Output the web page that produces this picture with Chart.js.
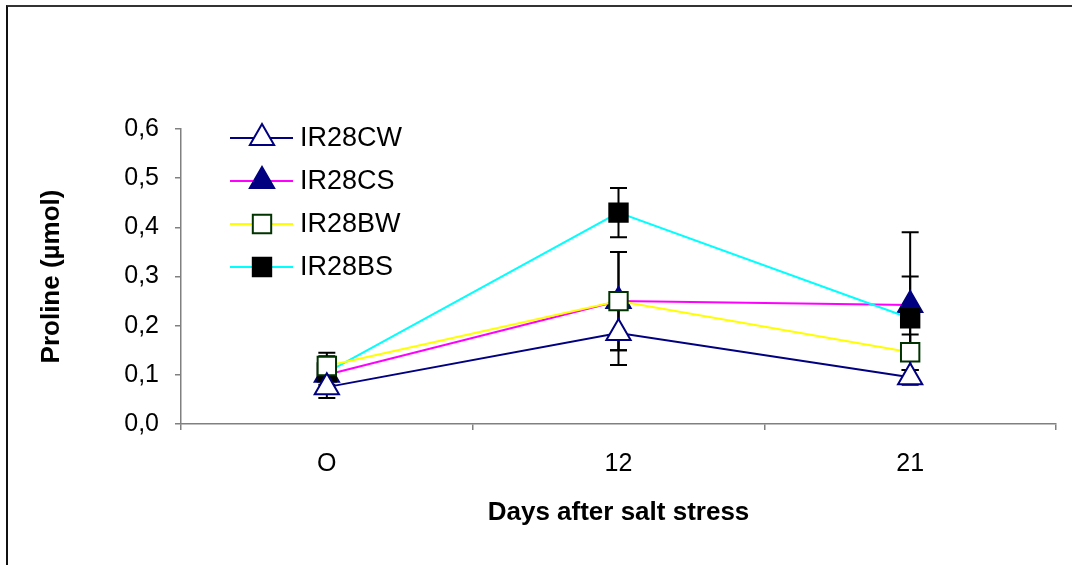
<!DOCTYPE html>
<html>
<head>
<meta charset="utf-8">
<script src="https://cdn.jsdelivr.net/npm/chart.js@4/dist/chart.umd.min.js"></script>
<style>
    body { margin: 0; background: #fff; overflow: hidden; }
    #wrap { position: relative; width: 1072px; height: 565px; }
    #frame { position: absolute; left: 6px; top: 5px; width: 1200px; height: 700px; border-top: 2px solid #333; border-left: 2px solid #111; }
    canvas { position: absolute; left: 0; top: 0; }
</style>
</head>
<body>
<div id="wrap">
    <div id="frame"></div>
    <canvas id="prolineChart" width="1072" height="565"></canvas>
</div>
<script>
const days = ['O', '12', '21'];
const seriesNames = ['IR28CW', 'IR28CS', 'IR28BW', 'IR28BS'];

const cwValues = [0.075, 0.185, 0.095];
const cwErrors = [0.022, 0.065, 0.015];
const csValues = [0.10, 0.25, 0.242];
const csErrors = [0.02, 0.10, 0.148];
const bwValues = [0.118, 0.25, 0.146];
const bwErrors = [0.02, 0.10, 0.036];
const bsValues = [0.105, 0.43, 0.215];
const bsErrors = [0.04, 0.05, 0.085];

const yTicks = [0, 0.1, 0.2, 0.3, 0.4, 0.5, 0.6];

const FONT = "'Liberation Sans', Arial, sans-serif";

// vertical error bars, drawn behind the lines and markers
const errorBars = {
    id: 'errorBars',
    beforeDatasetsDraw(chart) {
        const { ctx, scales: { x, y } } = chart;
        ctx.save();
        ctx.strokeStyle = '#000';
        ctx.lineWidth = 2;
        chart.data.datasets.forEach(ds => {
            ds.data.forEach((v, i) => {
                const e = ds.errors[i];
                if (!e) return;
                const px = x.getPixelForValue(i);
                const pTop = y.getPixelForValue(v + e);
                const pBot = y.getPixelForValue(v - e);
                ctx.beginPath();
                ctx.moveTo(px, pTop); ctx.lineTo(px, pBot);
                ctx.moveTo(px - 8.5, pTop); ctx.lineTo(px + 8.5, pTop);
                ctx.moveTo(px - 8.5, pBot); ctx.lineTo(px + 8.5, pBot);
                ctx.stroke();
            });
        });
        ctx.restore();
    }
};

// legend inside the plot, line + marker per series
const innerLegend = {
    id: 'innerLegend',
    afterDraw(chart) {
        const { ctx, chartArea } = chart;
        ctx.save();
        chart.data.datasets.forEach((ds, i) => {
            const yy = chartArea.top + 9 + i * 43;
            const x0 = chartArea.left + 49;
            ctx.strokeStyle = ds.borderColor;
            ctx.lineWidth = 2;
            ctx.beginPath();
            ctx.moveTo(x0, yy); ctx.lineTo(x0 + 63, yy);
            ctx.stroke();
            ctx.fillStyle = ds.pointBackgroundColor;
            ctx.strokeStyle = ds.pointBorderColor;
            ctx.lineWidth = ds.pointBorderWidth;
            Chart.helpers.drawPoint(ctx, {
                pointStyle: ds.pointStyle, radius: ds.pointRadius, rotation: 0, borderWidth: ds.pointBorderWidth
            }, x0 + 32, yy);
            ctx.fillStyle = '#000';
            ctx.font = '27px ' + FONT;
            ctx.textBaseline = 'middle';
            ctx.fillText(ds.label, x0 + 70, yy + 1);
        });
        ctx.restore();
    }
};

function makeSet(label, data, errors, line, style, fill, border, order) {
    const r = style === 'triangle' ? 14 : 13;
    return {
        label, data, errors, order,
        borderColor: line, borderWidth: 2,
        pointStyle: style, pointRadius: r, pointHoverRadius: r,
        pointBackgroundColor: fill, pointBorderColor: border, pointBorderWidth: 2,
        tension: 0, fill: false
    };
}

new Chart(document.getElementById('prolineChart'), {
    type: 'line',
    data: {
        labels: days,
        datasets: [
            makeSet(seriesNames[0], cwValues, cwErrors, '#000080', 'triangle', '#ffffff', '#000080', 0),
            makeSet(seriesNames[1], csValues, csErrors, '#ff00ff', 'triangle', '#000080', '#000080', 3),
            makeSet(seriesNames[2], bwValues, bwErrors, '#ffff00', 'rect', '#ffffff', '#003300', 1),
            makeSet(seriesNames[3], bsValues, bsErrors, '#00ffff', 'rect', '#000000', '#000000', 2)
        ]
    },
    options: {
        responsive: false,
        animation: false,
        layout: { padding: { top: 129, right: 12, left: 0, bottom: 0 } },
        plugins: { legend: { display: false }, tooltip: { enabled: false } },
        scales: {
            x: {
                offset: true,
                afterFit: s => { s.height = 141; },
                grid: { offset: true, drawOnChartArea: false, tickLength: 6, color: '#808080', lineWidth: 1.5 },
                border: { color: '#808080', width: 1.5 },
                ticks: { color: '#000', font: { family: FONT, size: 25 }, padding: 19 },
                title: { display: true, text: 'Days after salt stress', color: '#000', font: { family: FONT, size: 26, weight: 'bold' }, padding: { bottom: 37 } }
            },
            y: {
                min: 0, max: 0.6,
                afterFit: s => { s.width = 181; },
                afterBuildTicks: s => { s.ticks = yTicks.map(v => ({ value: v })); },
                grid: { drawOnChartArea: false, tickLength: 6, color: '#808080', lineWidth: 1.5 },
                border: { color: '#808080', width: 1.5 },
                ticks: { color: '#000', font: { family: FONT, size: 25 }, padding: 16, callback: v => v.toFixed(1).replace('.', ',') },
                title: { display: true, text: 'Proline (µmol)', color: '#000', font: { family: FONT, size: 26, weight: 'bold' }, padding: { top: 36 } }
            }
        }
    },
    plugins: [errorBars, innerLegend]
});
</script>
</body>
</html>
